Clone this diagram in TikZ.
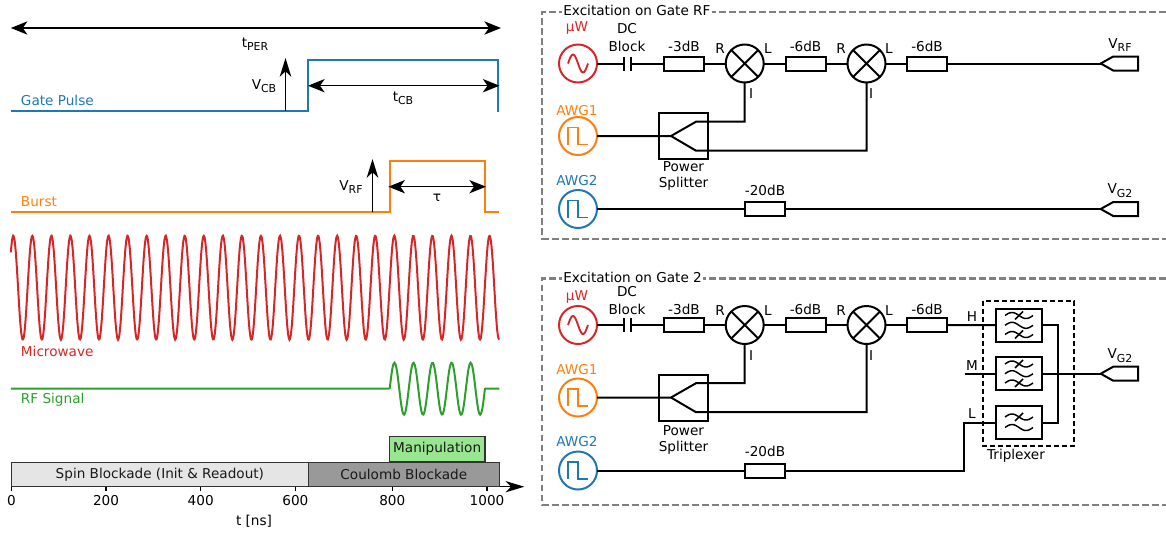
\documentclass[tikz,border=0pt]{standalone}
\usepackage{fontspec}
\setmainfont{DejaVu Sans}
\usetikzlibrary{arrows.meta,calc}
\definecolor{cblue}{HTML}{1F77B4}
\definecolor{corange}{HTML}{FF7F0E}
\definecolor{cred}{HTML}{D62728}
\definecolor{cgreen}{HTML}{2CA02C}
\definecolor{cman}{HTML}{98E690}
\newcommand{\subt}[1]{{\fontsize{8.2}{8.2}\selectfont\raisebox{-0.3em}{#1}}}
\tikzset{
  x=0.75pt,y=-0.75pt,
  every node/.style={font=\fontsize{10.2}{12}\selectfont,inner sep=0pt,outer sep=0pt},
  wire/.style={line width=1.5pt,black,line join=miter},
  srcnode/.style={circle,draw,line width=1.5pt,minimum size=28.5pt},
  mixer/.style={circle,draw=black,line width=1.5pt,minimum size=28.5pt},
  atten/.style={rectangle,draw=black,line width=1.5pt,minimum width=30pt,minimum height=10.5pt,fill=white},
  filterbox/.style={rectangle,draw=black,line width=1.5pt,minimum width=34pt,minimum height=25pt},
  splitbox/.style={rectangle,draw=black,line width=1.5pt,minimum width=36.75pt,minimum height=34.5pt},
  framebox/.style={draw=black!50,line width=1.6pt,dash pattern=on 5pt off 2.5pt},
  signal/.style={line width=1.5pt,line join=miter},
  dimarrow/.style={line width=1pt,black,{Stealth[length=12.5pt,width=10pt,inset=3.5pt]}-{Stealth[length=12.5pt,width=10pt,inset=3.5pt]}},
  uparrow/.style={line width=0.9pt,black,-{Stealth[length=14pt,width=8.6pt,inset=4pt]}},
  blockbox/.style={rectangle,draw=black!80,line width=1pt,anchor=north west,text=black!90},
}
% one source-mixer chain; #1 prefix, #2 vertical shift, #3 shift of the splitter label,
% #4 shift of the uW label, #5 shift of the upper-row labels, #6 shift of the AWG1 label
\newcommand{\chain}[6]{%
\begin{scope}[shift={(0,#2)}]
  \node[srcnode,draw=cred] (#1uw) at (578,63.5) {};
  \node[srcnode,draw=corange] (#1aa) at (578,136) {};
  \node[srcnode,draw=cblue] (#1ab) at (578,209) {};
  \draw[cred,line width=1.4pt] plot[domain=568:588,samples=40,smooth] (\x,{63.5-9*sin(18*(\x-568))});
  \draw[corange,line width=1.4pt] (568,144.5)--(568,127.5)--(578,127.5)--(578,144.5)--(588,144.5);
  \draw[cblue,line width=1.4pt] (568,217.5)--(568,200.5)--(578,200.5)--(578,217.5)--(588,217.5);
  \node[text=cred] (#1luw) at (577,{28+#4}) {µW};
  \node[text=corange] (#1laa) at (577,{110.5+#6}) {AWG1};
  \node[text=cblue] (#1lab) at (577,180.5) {AWG2};
  \coordinate (#1capl) at (624,63.5);
  \coordinate (#1capr) at (631,63.5);
  \draw[wire] (624,56.5)--(624,70.5) (631,56.5)--(631,70.5);
  \node (#1ldc) at (627,{29+#5}) {DC};
  \node (#1lbl) at (627,{46+#5}) {Block};
  \node[atten] (#1a3) at (684,63.5) {};
  \node (#1l3) at (684,{46+#5}) {-3dB};
  \node[mixer] (#1m1) at (744.7,63.5) {};
  \draw[wire] (#1m1.45)--(#1m1.225) (#1m1.135)--(#1m1.315);
  \node (#1r1) at (720,49) {R};
  \node (#1o1) at (768,49) {L};
  \node (#1i1) at (751,94) {I};
  \node[atten] (#1a6) at (805.5,63.5) {};
  \node (#1l6) at (805.5,{46+#5}) {-6dB};
  \node[mixer] (#1m2) at (866.5,63.5) {};
  \draw[wire] (#1m2.45)--(#1m2.225) (#1m2.135)--(#1m2.315);
  \node (#1r2) at (841,49) {R};
  \node (#1o2) at (889,49) {L};
  \node (#1i2) at (871,94) {I};
  \node[atten] (#1b6) at (927,63.5) {};
  \node (#1m6) at (927,{46+#5}) {-6dB};
  \node[splitbox] (#1sp) at (683.5,136) {};
  \node (#1lpw) at (683.5,{167+#3}) {Power};
  \node (#1lsp) at (683.5,{184+#3}) {Splitter};
  \coordinate (#1tip) at (671,136);
  \coordinate (#1up) at (696,121.7);
  \coordinate (#1dn) at (696,150.7);
  \node[atten] (#1a20) at (765,209) {};
  \node (#1l20) at (765,190) {-20dB};
  \draw[wire] (#1uw)--(#1capl) (#1capr)--(#1a3)--(#1m1)--(#1a6)--(#1m2)--(#1b6);
  \draw[wire] (#1aa)--(#1tip)--(#1up)-|(#1m1);
  \draw[wire] (#1tip)--(#1dn)-|(#1m2);
  \draw[wire] (#1ab)--(#1a20);
\end{scope}}
% output tag at given point
\newcommand{\porttag}[1]{\draw[wire] (#1) -- ++(12.5,-7) -- ++(25,0) -- ++(0,14) -- ++(-25,0) -- cycle;}
% filter wave
\newcommand{\fwave}[3]{%
  \draw[line width=1.1pt] plot[domain=-14:14,samples=30,smooth] ({#1+\x},{#2-3*sin(12.86*(\x+14))});
  \ifnum#3=1 \draw[line width=1.1pt] ({#1-4},{#2+4})--({#1+4},{#2-4}); \fi}
\begin{document}
\begin{tikzpicture}
\useasboundingbox (0,0) rectangle (1166,533);
% ---------- timing ----------
\draw[dimarrow] (10.8,28)--(501,28);
\node (ltper) at (255,44.5) {t\subt{PER}};
\draw[signal,cblue] (10.8,111)--(308.3,111)--(308.3,60)--(498.3,60)--(498.3,111)--(499.3,111);
\node[text=cblue,anchor=west] (lgate) at (21,100) {Gate Pulse};
\draw[uparrow] (285.5,111)--(285.5,58);
\node (lvcb) at (264,86) {V\subt{CB}};
\draw[dimarrow] (308,85.7)--(499.5,85.7);
\node (ltcb) at (403,98) {t\subt{CB}};
\draw[signal,corange] (10.8,212.3)--(389.7,212.3)--(389.7,160.7)--(485,160.7)--(485,212.3)--(499.3,212.3);
\node[text=corange,anchor=west] (lburst) at (21,202) {Burst};
\draw[uparrow] (372.5,212.3)--(372.5,159);
\node (lvrf) at (351,186.7) {V\subt{RF}};
\draw[dimarrow] (388.3,186.7)--(486,186.7);
\node (ltau) at (437,197.7) {τ};
\draw[signal,cred] plot[domain=10.8:499.3,samples=420,smooth] (\x,{287.7-52*cos(18.898*(\x-13.3))});
\node[text=cred,anchor=west] (lmw) at (21,351) {Microwave};
\draw[signal,cgreen] (10.8,388.7)--(389.7,388.7) plot[domain=389.7:485,samples=100,smooth] (\x,{388.7-26*sin(18.898*(\x-389.7))}) (485,388.7)--(499.3,388.7);
\node[text=cgreen,anchor=west] (lrf) at (21,399.5) {RF Signal};
% ---------- blocks ----------
\node[blockbox,fill=cman,minimum width=71.8pt,minimum height=18.75pt] (bman) at (389.3,436.7) {Manipulation};
\coordinate (axs) at (11.4,486.7);
\coordinate (axe) at (524.3,486.7);
\draw[line width=1pt,black,-{Stealth[length=14pt,width=8.4pt,inset=4pt]}] (axs)--(axe);
\node[blockbox,fill=black!10,minimum width=222.7pt,minimum height=18.4pt] (bspin) at (11.4,462.2) {Spin Blockade (Init \& Readout)};
\node[blockbox,fill=black!40,minimum width=143.25pt,minimum height=18.4pt] (bcoul) at (308.3,462.2) {Coulomb Blockade};
\foreach \t/\xp in {0/11.4,200/106,400/200.7,600/295.4,800/392.3,1000/487}{
  \draw[line width=0.8pt] (\xp,486.7)--(\xp,490.5);
  \node (tick\t) at (\xp,501) {\t};
}
\node (lt) at (254,521) {t [ns]};
% ---------- circuits ----------
\draw[framebox] (1166,12)--(542.3,12)--(542.3,238.7)--(1166,238.7);
\node[fill=white,inner sep=1pt,anchor=west] (ttop) at (562,10) {Excitation on Gate RF};
\draw[framebox] (1166,278.5)--(542.3,278.5)--(542.3,505)--(1166,505);
\node[fill=white,inner sep=1pt,anchor=west] (tbot) at (562,277) {Excitation on Gate 2};
\chain{p}{0}{0}{0}{0}{0}
\chain{q}{261.5}{2.5}{7.5}{1.5}{-2}
% top outputs
\coordinate (ptag) at (1100.7,63.5);
\coordinate (ptagb) at (1100.7,209);
\draw[wire] (pb6)--(ptag) (pa20)--(ptagb);
\porttag{ptag}
\porttag{ptagb}
\node (lvrfo) at (1120,45) {V\subt{RF}};
\node (lvgt) at (1120,190.5) {V\subt{G2}};
% triplexer
\draw[line width=1.2pt,dash pattern=on 4pt off 2pt] (983,301) rectangle (1074,446);
\node[filterbox] (fh) at (1019,325.3) {};
\node[filterbox] (fm) at (1019,373.7) {};
\node[filterbox] (fl) at (1019,422.5) {};
\fwave{1019}{315.5}{1}\fwave{1019}{325.3}{0}\fwave{1019}{334.5}{1}
\fwave{1019}{364}{1}\fwave{1019}{373.7}{0}\fwave{1019}{383}{1}
\fwave{1019}{417}{1}\fwave{1019}{427.5}{0}
\node (lh) at (972,317) {H};
\node (lm) at (972,366) {M};
\node (ll) at (972,414) {L};
\node (ltri) at (1016,456) {Triplexer};
\coordinate (mstub) at (965,373.7);
\coordinate (lcorner) at (963.7,422.5);
\coordinate (qtag) at (1100.7,373.7);
\coordinate (bus) at (1058,373.7);
\draw[wire] (qb6)--(fh);
\draw[wire] (mstub)--(fm);
\draw[wire] (qa20)-|(lcorner)--(fl);
\draw[wire] (fm)--(qtag);
\draw[wire] (fh)-|(bus) (fl)-|(bus);
\porttag{qtag}
\node (lvgb) at (1120,355.7) {V\subt{G2}};
\end{tikzpicture}
\end{document}
